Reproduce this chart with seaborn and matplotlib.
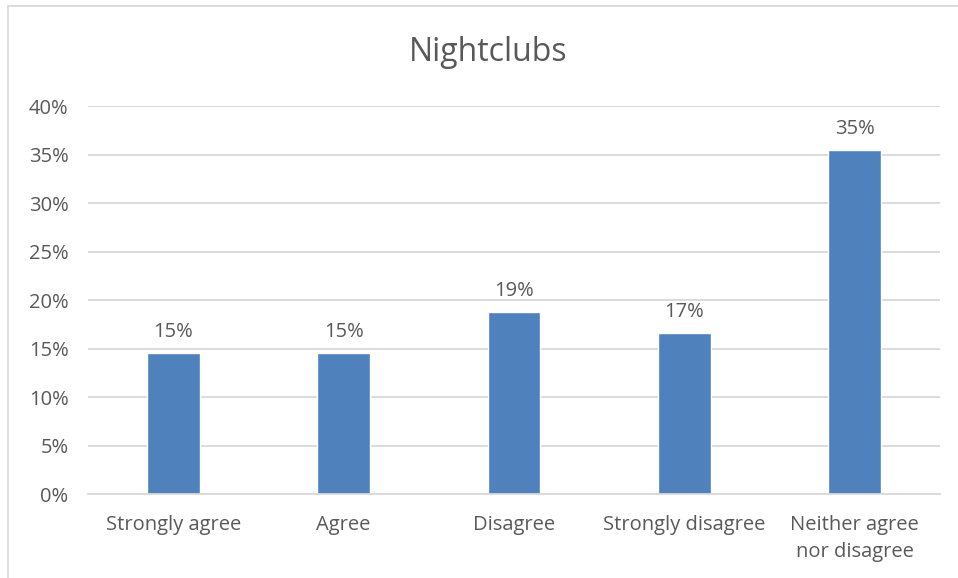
import matplotlib
matplotlib.use('Agg')
import matplotlib.pyplot as plt
import seaborn as sns
from matplotlib.patches import Rectangle

categories = ['Strongly agree', 'Agree', 'Disagree', 'Strongly disagree', 'Neither agree\nnor disagree']
values = [14.5, 14.5, 18.8, 16.6, 35.5]
bar_labels = ['15%', '15%', '19%', '17%', '35%']
y_ticks = [0, 5, 10, 15, 20, 25, 30, 35, 40]

sns.set_style('white')
plt.rcParams['font.family'] = ['Open Sans', 'DejaVu Sans']

text_color = '#595959'

fig = plt.figure(figsize=(9.58, 5.78), dpi=100)
ax = fig.add_axes([0.0919, 0.1453, 0.8893, 0.6713])

sns.barplot(x=categories, y=values, color='#4F81BD', width=0.31, saturation=1, ax=ax)

# labels over the bars
ax.bar_label(ax.containers[0], labels=bar_labels, padding=8, fontsize=14.5, color=text_color)

ax.set_ylim(0, 40)
ax.set_xlim(-0.5, 4.5)
ax.set_yticks(y_ticks)
ax.set_yticklabels([f'{t}%' for t in y_ticks])
ax.yaxis.grid(True, color='#D9D9D9', linewidth=1.3)
ax.set_axisbelow(True)
for s in ['top', 'right', 'left']:
    ax.spines[s].set_visible(False)
ax.spines['bottom'].set_color('#D9D9D9')
ax.spines['bottom'].set_linewidth(1.3)
ax.tick_params(axis='y', length=0, pad=14, labelsize=14.5, labelcolor=text_color)
ax.tick_params(axis='x', length=0, pad=15, labelsize=14.5, labelcolor=text_color)
for lbl in ax.get_xticklabels():
    lbl.set_linespacing(1.45)
ax.set_xlabel('')
ax.set_ylabel('')

fig.text(0.51, 0.91, 'Nightclubs', ha='center', va='center', fontsize=23, color=text_color)

# chart frame
fig.patches.append(Rectangle((8 / 958, -0.1), 1.5, 1.1 - 7 / 578 + 0.001, transform=fig.transFigure,
                             fill=False, edgecolor='#D9D9D9', linewidth=1.3))

fig.savefig('out.png', dpi=100)
